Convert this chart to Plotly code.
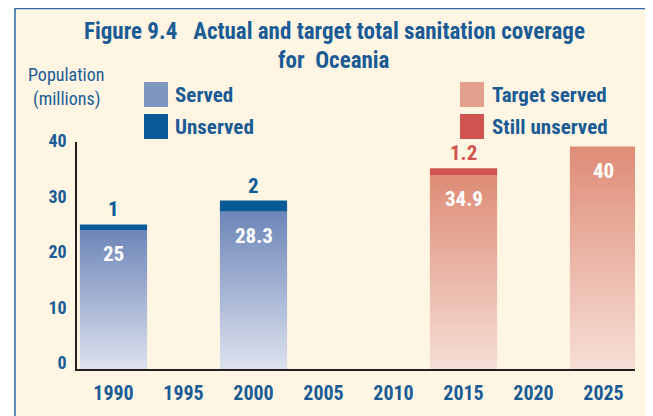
import plotly.graph_objects as go

# ---- data ----
actual_years = [1990, 2000]
served = [25, 28.3]
unserved = [1, 2]
target_years = [2015, 2025]
target_served = [34.9, 40]
still_unserved = [1.2, 0]
tick_years = [1990, 1995, 2000, 2005, 2010, 2015, 2020, 2025]
y_ticks = [0, 10, 20, 30, 40]
legend_left = ["Served", "Unserved"]
legend_right = ["Target served", "Still unserved"]
title_lines = ["Figure 9.4\u00a0\u00a0\u00a0Actual and target total sanitation coverage", "for\u00a0\u00a0Oceania"]
y_title = ["Population", "(millions)"]

# ---- style ----
OFF = 8  # page body margin
PAGE_W, PAGE_H = 653, 416
W_PX, H_PX = PAGE_W - OFF, PAGE_H - OFF
PL, PR, PT, PB = 77, 635, 142, 369  # plot area in page pixels
L, R, T, B = PL - OFF, W_PX - (PR - OFF), PT - OFF, H_PX - (PB - OFF)
PW, PH = PR - PL, PB - PT
FONT = "Roboto Condensed, Open Sans Condensed, DejaVu Sans Condensed, Liberation Sans Narrow, sans-serif"
BLUE = "#1A5B96"
CREAM = "#FEF6E3"
SERVED_TOP, SERVED_BOT = "#6D86B8", "#DDE1EE"
TARGET_TOP, TARGET_BOT = "#DE8C76", "#F6DED6"
UNSERVED_C = "#0A5A97"
STILL_C = "#CF5350"
LEG_SERVED = "#7F97BF"
LEG_TARGET = "#E3A08C"
BAR_W = 4.8


def fnt(size, color, bold=True):
    return dict(family=FONT, size=size, color=color, weight="bold" if bold else "normal")


def px_x(px):
    return (px - PL) / PW


def px_y(py):
    return (PB - py) / PH


fig = go.Figure()


def gradient_bar(x, v, c_bot, c_top):
    h = BAR_W / 2
    fig.add_trace(go.Scatter(
        x=[x - h, x + h, x + h, x - h, x - h],
        y=[0, 0, v, v, 0],
        mode="lines", line=dict(width=0), fill="toself",
        fillgradient=dict(type="vertical", colorscale=[[0, c_bot], [1, c_top]]),
        hoverinfo="skip", showlegend=False))


for x, v in zip(actual_years, served):
    gradient_bar(x, v, SERVED_BOT, SERVED_TOP)
for x, v in zip(target_years, target_served):
    gradient_bar(x, v, TARGET_BOT, TARGET_TOP)

fig.add_trace(go.Bar(x=actual_years, y=unserved, base=served, width=BAR_W,
                     marker=dict(color=UNSERVED_C, line=dict(width=0)), showlegend=False))
fig.add_trace(go.Bar(x=target_years, y=still_unserved, base=target_served, width=BAR_W,
                     marker=dict(color=STILL_C, line=dict(width=0)), showlegend=False))

VAL_SIZE = 21
ann = []
for x, s, u in zip(actual_years, served, unserved):
    ann.append(dict(x=x, y=s + u, text=f"{u:g}", showarrow=False, yanchor="middle", yshift=15,
                    font=fnt(VAL_SIZE, UNSERVED_C)))
    ann.append(dict(x=x, y=s, text=f"{s:g}", showarrow=False, yanchor="middle", yshift=-24,
                    font=fnt(VAL_SIZE, "white")))
for x, s, u in zip(target_years, target_served, still_unserved):
    if u > 0:
        ann.append(dict(x=x, y=s + u, text=f"{u:g}", showarrow=False, yanchor="middle", yshift=15,
                        font=fnt(VAL_SIZE, STILL_C)))
    ann.append(dict(x=x, y=s, text=f"{s:g}", showarrow=False, yanchor="middle", yshift=-24,
                    font=fnt(VAL_SIZE, "white")))

for line, cy in zip(title_lines, [31, 61]):
    ann.append(dict(xref="paper", yref="paper", x=px_x(334), y=px_y(cy), text=line,
                    showarrow=False, xanchor="center", yanchor="middle",
                    font=fnt(23, BLUE)))
for line, cy in zip(y_title, [75, 99]):
    ann.append(dict(xref="paper", yref="paper", x=px_x(66), y=px_y(cy), text=line,
                    showarrow=False, xanchor="center", yanchor="middle",
                    font=fnt(18, BLUE, bold=False)))

shapes = [dict(type="rect", xref="paper", yref="paper", x0=px_x(15), x1=px_x(646),
               y0=px_y(440), y1=px_y(8.5), fillcolor=CREAM,
               line=dict(color="#2B6AA6", width=1.5), layer="below")]

legend_items = [(legend_left, [LEG_SERVED, UNSERVED_C], 144, 173),
                (legend_right, [LEG_TARGET, STILL_C], 460, 490)]
for labels, colors, sx, tx in legend_items:
    for i, (lab, col) in enumerate(zip(labels, colors)):
        top = 82 + i * 32
        shapes.append(dict(type="rect", xref="paper", yref="paper", x0=px_x(sx), x1=px_x(sx + 24),
                           y0=px_y(top + 25), y1=px_y(top), fillcolor=col, line=dict(width=0)))
        ann.append(dict(xref="paper", yref="paper", x=px_x(tx), y=px_y(top + 12.5), text=lab,
                        showarrow=False, xanchor="left", yanchor="middle", font=fnt(21, BLUE)))

px_per_year = 14.0
x0 = 1990 - (113.5 - PL) / px_per_year
x1 = x0 + PW / px_per_year
y_top = PH / 5.56

fig.update_layout(
    width=W_PX, height=H_PX,
    margin=dict(l=L, r=R, t=T, b=B, pad=0, autoexpand=False),
    paper_bgcolor="white", plot_bgcolor="rgba(0,0,0,0)",
    showlegend=False, barmode="overlay",
    annotations=ann, shapes=shapes,
    xaxis=dict(range=[x0, x1], tickvals=tick_years, ticktext=[str(t) for t in tick_years],
               showgrid=False, zeroline=False, showline=True, linecolor="#231F20", linewidth=1.5,
               ticks="", ticklabelstandoff=5, tickfont=fnt(20, BLUE)),
    yaxis=dict(range=[0, y_top], tickvals=y_ticks, showgrid=False, zeroline=False,
               showline=True, linecolor="#231F20", linewidth=1.5, ticks="",
               ticklabelstandoff=5, ticklabelshift=-6, tickfont=fnt(18, BLUE)),
)

fig.write_html("out.html")
